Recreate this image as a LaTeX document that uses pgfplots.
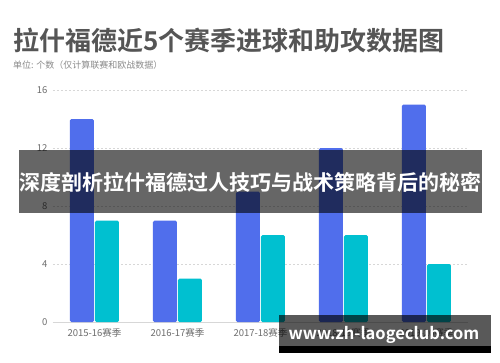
\documentclass[border=0pt]{standalone}
\usepackage{pgfplots}
\pgfplotsset{compat=1.18}
\usepackage{fontspec}
\setmainfont{Noto Sans CJK SC}
\newfontfamily\cjkb{Noto Sans CJK SC Bold}
\definecolor{barblue}{RGB}{80,110,236}
\definecolor{barcyan}{RGB}{0,192,208}
\definecolor{titlegray}{RGB}{85,85,85}
\definecolor{tickgray}{RGB}{110,110,110}
\definecolor{gridgray}{RGB}{215,215,215}
\begin{document}
\begin{tikzpicture}
\path[fill=white] (-53pt,-40pt) rectangle (447pt,322pt);
\begin{axis}[
  at={(0pt,0pt)}, anchor=south west,
  scale only axis, width=415pt, height=232pt,
  xmin=-0.5, xmax=4.5, ymin=0, ymax=16,
  ybar=1pt, bar width=24pt,
  xtick={0,1,2,3,4},
  xticklabels={2015-16赛季,2016-17赛季,2017-18赛季,2018-19赛季,2019-20赛季},
  ytick={0,4,8,12,16},
  axis x line*=bottom, axis y line*=left,
  x axis line style={draw=gridgray, line width=0.8pt, -},
  y axis line style={draw=none},
  major tick length=0pt,
  ymajorgrids,
  grid style={draw=gridgray, dash pattern=on 2pt off 2pt, line width=0.6pt},
  tick label style={font=\fontsize{9.5}{11}\selectfont, text=tickgray},
  /pgf/number format/assume math mode=true,
  yticklabel style={xshift=-2pt},
  xticklabel style={yshift=-3pt},
  clip=false,
]
\addplot[fill=barblue, draw=none, rounded corners=1.5pt] coordinates {(0,14) (1,7) (2,9) (3,12) (4,15)};
\addplot[fill=barcyan, draw=none, rounded corners=1.5pt] coordinates {(0,7) (1,3) (2,6) (3,6) (4,4)};
\end{axis}
\node[anchor=west, text=titlegray, inner sep=0pt] at (-40pt,282pt) {\cjkb\fontsize{26}{29}\selectfont 拉什福德近5个赛季进球和助攻数据图};
\node[anchor=west, text=tickgray!80, inner sep=0pt] at (-40pt,257pt) {\fontsize{9}{10}\selectfont 单位: 个数（仅计算联赛和欧战数据）};
\fill[black, opacity=0.6] (-34pt,109pt) rectangle (429pt,172pt);
\node[text=white, inner sep=0pt] at (197.5pt,140pt) {\cjkb\fontsize{21}{24}\selectfont 深度剖析拉什福德过人技巧与战术策略背后的秘密};
\fill[black, opacity=0.65] (226pt,-24pt) rectangle (438pt,7pt);
\fill[black] (226pt,-31pt) rectangle (438pt,-24pt);
\node[text=white, inner sep=0pt] at (331pt,-13pt) {\cjkb\fontsize{16.5}{18}\selectfont www.zh-laogeclub.com};
\end{tikzpicture}
\end{document}
